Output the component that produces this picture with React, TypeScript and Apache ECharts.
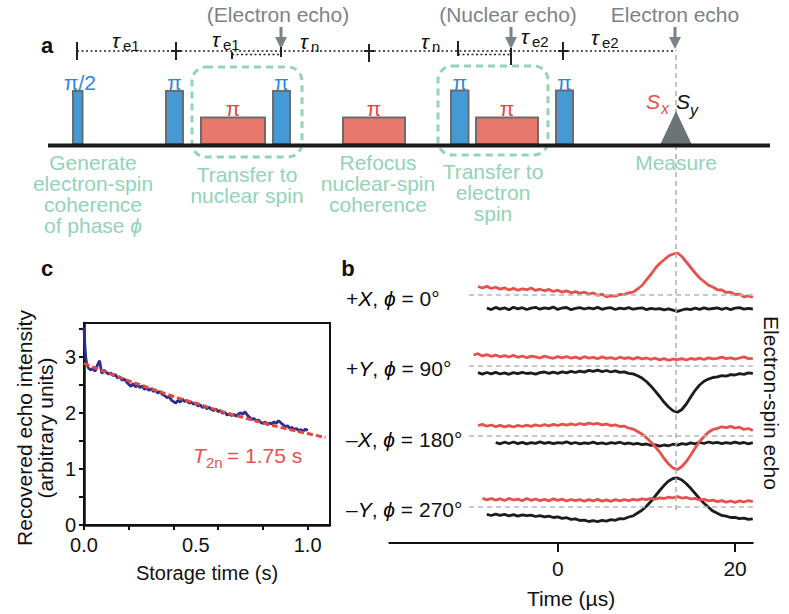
import React, { useEffect, useRef } from "react";
import * as echarts from "echarts";

const FONT = '"Liberation Sans", Arial, Helvetica, sans-serif';

/* ---------------- panel c : recovered echo vs storage time ---------------- */
const C_X_TICKS = [0, 0.2, 0.4, 0.6, 0.8, 1.0];
const C_X_LABELS = [0, 0.5, 1.0];
const C_Y_TICKS = [0, 0.5, 1, 1.5, 2, 2.5, 3, 3.5];
const C_Y_LABELS = [0, 1, 2, 3];

const STORAGE_TIME = [
  0, 0.004, 0.008, 0.012, 0.02, 0.03, 0.04, 0.05, 0.06, 0.07, 0.075, 0.08, 0.09, 0.1,
  0.11, 0.12, 0.13, 0.14, 0.15, 0.16, 0.17, 0.18, 0.19, 0.2,
  0.21, 0.22, 0.23, 0.24, 0.25, 0.26, 0.27, 0.28, 0.29, 0.3,
  0.31, 0.32, 0.33, 0.34, 0.35, 0.36, 0.37, 0.38, 0.39, 0.4,
  0.41, 0.42, 0.43, 0.44, 0.45, 0.46, 0.47, 0.48, 0.49, 0.5,
  0.51, 0.52, 0.53, 0.54, 0.55, 0.56, 0.57, 0.58, 0.59, 0.6,
  0.61, 0.62, 0.63, 0.64, 0.65, 0.66, 0.67, 0.68, 0.69, 0.7,
  0.71, 0.72, 0.73, 0.74, 0.75, 0.76, 0.77, 0.78, 0.79, 0.8,
  0.81, 0.82, 0.83, 0.84, 0.85, 0.86, 0.87, 0.88, 0.89, 0.9,
  0.91, 0.92, 0.93, 0.94, 0.95, 0.96, 0.97, 0.98, 0.99, 1.0,
];
const ECHO_INTENSITY = [
  3.52, 3.2, 2.98, 2.87, 2.8, 2.76, 2.79, 2.74, 2.85, 2.93, 2.8, 2.7, 2.76, 2.72,
  2.69, 2.71, 2.66, 2.68, 2.62, 2.64, 2.58, 2.6, 2.55, 2.51,
  2.47, 2.52, 2.46, 2.5, 2.45, 2.48, 2.42, 2.44, 2.4, 2.43,
  2.38, 2.4, 2.35, 2.38, 2.33, 2.31, 2.27, 2.29, 2.23, 2.2,
  2.17, 2.22, 2.19, 2.24, 2.2, 2.22, 2.17, 2.19, 2.15, 2.17,
  2.12, 2.14, 2.09, 2.12, 2.07, 2.1, 2.06, 2.04, 2.07, 2.02,
  2.04, 1.99, 2.01, 1.96, 1.98, 1.95, 1.97, 1.94, 1.98, 2.0,
  1.97, 2.02, 1.96, 1.92, 1.88, 1.9, 1.85, 1.87, 1.83, 1.81,
  1.84, 1.79, 1.82, 1.8, 1.84, 1.81, 1.86, 1.82, 1.79, 1.75,
  1.77, 1.72, 1.74, 1.7, 1.72, 1.68, 1.7, 1.67, 1.71, 1.68,
];
const FIT_TIME = [0, 0.1, 0.2, 0.3, 0.4, 0.5, 0.6, 0.7, 0.8, 0.9, 1.0, 1.08];
const FIT_INTENSITY = [2.88, 2.72, 2.57, 2.43, 2.29, 2.17, 2.04, 1.93, 1.82, 1.72, 1.63, 1.56];

/* ---------------- panel b : electron-spin echo traces ---------------- */
const B_MIN = -19;
const B_MAX = 22;
const B_TICKS = [0, 20];
const ECHO_TIME = 13.3;
const BASELINE_START = -10;
const TIME_STEP = 0.5;

const ROW_LABELS = [
  "+{i|X}, {i|ϕ} = 0°",
  "+{i|Y}, {i|ϕ} = 90°",
  "–{i|X}, {i|ϕ} = 180°",
  "–{i|Y}, {i|ϕ} = 270°",
];

// Sx (red) traces
const SX_STARTS = [-9, -9.5, -9, -8.5];
const SX_ROW1 = [
  8.5, 7.0, 8.8, 6.5, 7.8, 5.9, 7.2, 5.0, 6.6, 4.8, 6.2, 5.3, 6.9, 4.6, 5.8, 4.2, 5.6, 3.5, 4.8, 2.9,
  4.1, 2.2, 3.4, 1.6, 2.8, 0.9, 2.1, -0.3, 0.8, -1.8, -0.6, -1.2, 0.6, 0.4, 2.1, 2.8, 6.0, 9.5, 15.2, 20.5,
  26.8, 31.5, 35.2, 39.0, 41.0, 42.0, 38.5, 33.0, 27.5, 22.0, 17.0, 13.5, 9.8, 8.0, 5.2, 5.0, 2.6, 2.8, 0.5, 0.9,
  -1.8, -0.8, -2.5,
];
const SX_ROW2 = [
  10.5, 11.8, 9.6, 10.9, 9.2, 10.4, 8.7, 9.9, 8.5, 10.1, 8.2, 9.5, 7.8, 9.3, 8.6, 7.5, 9.4, 8.1, 7.2, 8.9,
  7.7, 9.0, 7.3, 8.4, 6.9, 8.8, 7.4, 8.2, 6.8, 8.6, 7.1, 7.9, 6.5, 8.3, 7.0, 7.8, 6.4, 8.1, 6.7, 7.5,
  6.1, 7.3, 5.6, 6.9, 5.2, 6.5, 5.8, 6.8, 5.5, 7.0, 6.2, 7.4, 6.0, 7.6, 6.6, 7.2, 8.4, 6.9, 7.7, 6.3,
  7.5, 8.6, 6.9, 7.2,
];
const SX_ROW3 = [
  10.5, 11.6, 9.8, 11.0, 9.4, 10.7, 9.2, 10.3, 9.0, 10.6, 9.5, 10.8, 9.6, 11.1, 10.0, 11.4, 10.2, 11.7, 10.5, 11.9,
  10.8, 12.2, 11.0, 12.5, 11.3, 12.8, 11.8, 12.6, 11.2, 12.0, 10.4, 11.1, 9.5, 9.9, 7.8, 6.9, 4.5, 2.0, -1.8, -6.0,
  -10.8, -16.2, -22.5, -28.0, -32.0, -33.5, -30.5, -25.5, -19.0, -12.0, -5.5, -0.5, 3.8, 6.5, 7.6, 9.2, 8.4, 9.6, 7.9, 8.8,
  6.6, 7.5, 5.4,
];
const SX_ROW4 = [
  8.2, 6.6, 8.0, 6.3, 7.7, 6.0, 8.1, 6.5, 7.4, 5.8, 7.9, 6.2, 7.5, 5.9, 7.2, 5.6, 7.6, 6.1, 7.3, 5.5,
  7.0, 5.8, 6.9, 5.3, 6.8, 5.6, 7.1, 5.4, 6.7, 5.2, 6.9, 5.7, 7.0, 5.9, 7.2, 6.3, 7.6, 6.8, 8.2, 7.4,
  8.7, 8.0, 9.3, 8.6, 9.8, 8.4, 9.0, 7.6, 8.1, 6.5, 7.2, 5.6, 6.4, 4.9, 5.8, 4.3, 5.5, 4.2, 5.7, 4.5,
  6.0, 4.8,
];

// Sy (black) traces
const SY_STARTS = [-8, -9, -7, -8];
const SY_ROW1 = [
  -13.0, -14.6, -12.4, -14.1, -12.9, -14.8, -12.2, -13.9, -12.7, -14.5, -13.1, -12.3, -14.2, -12.8, -13.6, -12.1, -14.4, -13.0, -12.5, -14.7,
  -13.3, -12.6, -14.0, -12.9, -13.8, -12.4, -14.3, -13.2, -12.7, -14.5, -13.1, -13.9, -12.6, -14.2, -13.4, -12.8, -14.6, -13.3, -14.1, -13.6,
  -14.9, -13.8, -15.2, -16.4, -15.0, -13.9, -14.6, -13.2, -14.4, -12.9, -14.1, -13.5, -12.8, -14.3, -13.0, -14.6, -13.2, -12.7, -14.2, -13.4,
  -14.0,
];
const SY_ROW2 = [
  -7.2, -8.6, -7.0, -8.3, -6.9, -8.5, -7.4, -8.8, -7.1, -8.2, -6.8, -8.0, -7.5, -8.7, -7.2, -6.5, -7.9, -6.6, -7.8, -6.3,
  -7.4, -5.9, -7.0, -5.6, -6.6, -4.9, -5.8, -4.6, -6.1, -5.0, -6.5, -5.4, -6.9, -6.3, -7.8, -8.4, -10.2, -12.6, -16.0, -20.5,
  -25.6, -31.0, -36.8, -41.5, -45.2, -46.8, -44.0, -38.5, -31.5, -24.8, -19.5, -15.8, -13.6, -12.0, -11.4, -10.2, -10.6, -9.1, -9.5, -8.2,
  -8.8, -7.4, -8.0,
];
const SY_ROW3 = [
  -6.5, -7.8, -6.2, -7.5, -6.0, -7.6, -6.4, -7.9, -6.7, -7.3, -5.9, -7.4, -6.3, -7.7, -6.6, -7.2, -5.8, -7.6, -6.5, -7.9,
  -6.9, -7.5, -6.1, -7.7, -6.8, -8.0, -6.7, -7.4, -6.2, -7.8, -7.0, -8.2, -7.4, -8.6, -8.0, -9.4, -8.8, -10.2, -9.0, -9.8,
  -8.2, -9.1, -7.6, -8.4, -6.9, -7.8, -6.4, -7.5, -6.0, -7.2, -6.3, -7.7, -6.6, -7.4, -6.1, -7.3, -6.5, -7.8, -6.7,
];
const SY_ROW4 = [
  -7.8, -9.0, -7.6, -8.9, -7.9, -9.3, -8.1, -9.6, -8.4, -9.2, -8.7, -10.0, -9.1, -10.4, -9.6, -11.0, -10.3, -11.8, -11.2, -12.9,
  -12.4, -14.0, -13.6, -15.0, -14.2, -15.1, -13.9, -14.6, -13.2, -13.8, -12.1, -12.3, -10.5, -9.4, -6.5, -3.8, 0.2, 5.0, 10.5, 16.0,
  21.2, 25.6, 28.0, 28.6, 26.5, 22.8, 18.2, 13.0, 7.8, 3.2, -0.8, -4.6, -6.8, -8.9, -9.6, -11.0, -10.8, -12.2, -11.6, -12.9,
  -12.3,
];

const SX_TRACES = [SX_ROW1, SX_ROW2, SX_ROW3, SX_ROW4];
const SY_TRACES = [SY_ROW1, SY_ROW2, SY_ROW3, SY_ROW4];

/* ---------------- layout & style ---------------- */
const ROW_BASE_Y = [295, 365.5, 436, 506.5];
const B_LEFT = 389.3;
const B_WIDTH = 363.5;
const RED = "#e8514b";
const BLACK = "#1c1c1c";
const GREEN = "#93d3b8";
const GRAY = "#7b8389";
const PULSE_BLUE = "#4599d4";
const PULSE_RED = "#e8786b";
const LABEL_BLUE = "#2b8ad6";
const LABEL_RED = "#e8463d";

type TOpts = {
  size?: number;
  fill?: string;
  italic?: boolean;
  bold?: boolean;
  align?: string;
  va?: string;
  rot?: number;
  lh?: number;
  rich?: any;
};
const txt = (x: number, y: number, text: string, o: TOpts = {}) => ({
  type: "text",
  x,
  y,
  z: 100,
  silent: true,
  rotation: o.rot || 0,
  style: {
    text,
    fill: o.fill || "#111",
    fontSize: o.size || 21,
    fontFamily: FONT,
    fontStyle: o.italic ? "italic" : "normal",
    fontWeight: o.bold ? "bold" : "normal",
    align: o.align || "center",
    textAlign: o.align || "center",
    verticalAlign: o.va || "middle",
    textVerticalAlign: o.va || "middle",
    lineHeight: o.lh,
    rich: o.rich,
  },
});
const seg = (x1: number, y1: number, x2: number, y2: number, stroke: string, w: number, dash?: number[]) => ({
  type: "line",
  z: 100,
  silent: true,
  shape: { x1, y1, x2, y2 },
  style: { stroke, lineWidth: w, lineDash: dash },
});
const box = (x: number, y: number, w: number, h: number, fill: string) => ({
  type: "rect",
  z: 100,
  silent: true,
  shape: { x, y, width: w, height: h },
  style: { fill, stroke: "#6c6c6c", lineWidth: 2 },
});
const arrow = (x: number) => [
  seg(x, 27, x, 40, GRAY, 3),
  {
    type: "polygon",
    z: 100,
    silent: true,
    shape: { points: [[x - 6, 37], [x + 6, 37], [x, 49]] },
    style: { fill: GRAY },
  },
];
const tau = (x: number, y: number, sub: string) => [
  txt(x, y, "τ", { italic: true, size: 21 }),
  txt(x + 7, y + 5, sub, { size: 15, align: "left" }),
];
const italicRich = (size: number, fill?: string) => ({
  i: { fontStyle: "italic", fontSize: size, fontFamily: FONT, fill },
});

function panelA(): any[] {
  const els: any[] = [];
  // top annotations
  els.push(txt(278, 14, "(Electron echo)", { fill: GRAY }));
  els.push(txt(508, 14, "(Nuclear echo)", { fill: GRAY }));
  els.push(txt(675, 14, "Electron echo", { fill: GRAY }));
  els.push(...arrow(281), ...arrow(511), ...arrow(675));
  els.push(txt(47, 45, "a", { bold: true, size: 22 }));
  // timeline
  const dot = [2, 2.5];
  els.push(seg(77, 51, 675, 51, "#222", 1.5, dot));
  els.push(seg(232, 54.5, 281, 54.5, "#222", 1.5, dot));
  els.push(seg(458, 54.5, 511, 54.5, "#222", 1.5, dot));
  const ticks = [
    [77, 42, 60], [176, 42, 60], [232, 52, 59], [281, 47, 57],
    [369, 44, 62], [458, 41, 56], [511, 48, 65], [563, 42, 60],
  ];
  ticks.forEach(([x, a, b]) => els.push(seg(x, a, x, b, "#222", 2)));
  els.push(seg(171, 51, 181, 51, "#222", 2), seg(364, 51, 374, 51, "#222", 2), seg(558, 51, 568, 51, "#222", 2));
  els.push(...tau(116, 40, "e1"), ...tau(216, 39, "e1"), ...tau(304, 41, "n"));
  els.push(...tau(425, 41, "n"), ...tau(525, 36, "e2"), ...tau(595, 37, "e2"));
  // dashed boxes
  const dbox = (x: number, y: number, w: number, h: number) => ({
    type: "rect",
    z: 99,
    silent: true,
    shape: { x, y, width: w, height: h, r: 14 },
    style: { fill: "none", stroke: GREEN, lineWidth: 3, lineDash: [7, 5] },
  });
  els.push(dbox(192, 67, 110, 90), dbox(438, 66, 110, 89));
  // pulses
  els.push(box(73, 91, 9.5, 53, PULSE_BLUE));
  els.push(box(166, 91, 17, 53, PULSE_BLUE));
  els.push(box(201, 117.5, 64, 26.5, PULSE_RED));
  els.push(box(273, 91, 17, 53, PULSE_BLUE));
  els.push(box(343, 117.5, 62, 26.5, PULSE_RED));
  els.push(box(451, 90.5, 17.5, 53.5, PULSE_BLUE));
  els.push(box(476, 117.5, 62, 26.5, PULSE_RED));
  els.push(box(556, 90.5, 17, 53.5, PULSE_BLUE));
  els.push(txt(80, 82, "π/2", { fill: LABEL_BLUE }));
  [174.5, 281.5, 460, 564.5].forEach((x) => els.push(txt(x, 82, "π", { fill: LABEL_BLUE })));
  [233, 374, 507].forEach((x) => els.push(txt(x, 108, "π", { fill: LABEL_RED })));
  // measurement triangle
  els.push({
    type: "polygon",
    z: 100,
    silent: true,
    shape: { points: [[660, 145], [676, 111], [692, 145]] },
    style: { fill: "#6b7377" },
  });
  els.push(txt(653, 101, "S", { fill: RED, italic: true }));
  els.push(txt(665, 108, "x", { fill: RED, italic: true, size: 16 }));
  els.push(txt(683, 101, "S", { italic: true }));
  els.push(txt(694, 110, "y", { italic: true, size: 16 }));
  // baseline
  els.push({ type: "rect", z: 101, silent: true, shape: { x: 48, y: 143.5, width: 722, height: 4 }, style: { fill: "#1a1a1a" } });
  // green descriptions
  els.push(txt(93, 152, "Generate\nelectron-spin\ncoherence\nof phase {i|ϕ}", { fill: GREEN, va: "top", lh: 21, rich: italicRich(21, GREEN) }));
  els.push(txt(247, 164, "Transfer to\nnuclear spin", { fill: GREEN, va: "top", lh: 21 }));
  els.push(txt(378, 152, "Refocus\nnuclear-spin\ncoherence", { fill: GREEN, va: "top", lh: 21 }));
  els.push(txt(493, 161, "Transfer to\nelectron\nspin", { fill: GREEN, va: "top", lh: 21 }));
  els.push(txt(676, 162, "Measure", { fill: GREEN }));
  return els;
}

function otherGraphics(): any[] {
  const els: any[] = [];
  els.push(txt(47, 268, "c", { bold: true, size: 22 }));
  els.push(txt(348, 268, "b", { bold: true, size: 22 }));
  els.push(txt(35, 428, "Recovered echo intensity\n(arbitrary units)", { rot: Math.PI / 2, lh: 21 }));
  els.push(txt(193, 455, "T", { fill: RED, italic: true, align: "left" }));
  els.push(txt(206, 462, "2n", { fill: RED, size: 15, align: "left" }));
  els.push(txt(227, 455, "= 1.75 s", { fill: RED, align: "left" }));
  ROW_LABELS.forEach((l, r) =>
    els.push(txt(346, ROW_BASE_Y[r] + 3, l, { align: "left", rich: italicRich(21) }))
  );
  els.push(txt(771, 403, "Electron-spin echo", { rot: -Math.PI / 2 }));
  return els;
}

const toPairs = (start: number, vals: number[]) => vals.map((v, i) => [start + i * TIME_STEP, v]);

function buildOption(): any {
  const grids: any[] = [
    { left: 84, top: 323, width: 246, height: 202, show: true, borderColor: "#111", borderWidth: 2, backgroundColor: "transparent" },
  ];
  ROW_BASE_Y.forEach((b) => grids.push({ left: B_LEFT, width: B_WIDTH, top: b - 50, height: 100 }));
  grids.push({ left: B_LEFT, width: B_WIDTH, top: 50, height: 462 });

  const axisText = { fontSize: 20, color: "#111", fontFamily: FONT };
  const xAxes: any[] = [
    {
      gridIndex: 0,
      type: "value",
      min: 0,
      max: 1.1,
      axisLine: { show: true, onZero: false, lineStyle: { color: "#111", width: 2.5 } },
      axisTick: { show: true, customValues: C_X_TICKS, length: 5, lineStyle: { color: "#111", width: 2 } },
      axisLabel: { show: true, customValues: C_X_LABELS, formatter: (v: number) => v.toFixed(1), margin: 10, ...axisText },
      splitLine: { show: false },
      name: "Storage time (s)",
      nameLocation: "middle",
      nameGap: 38,
      nameTextStyle: axisText,
    },
  ];
  const yAxes: any[] = [
    {
      gridIndex: 0,
      type: "value",
      min: 0,
      max: 3.6,
      axisLine: { show: true, onZero: false, lineStyle: { color: "#111", width: 2.5 } },
      axisTick: { show: true, customValues: C_Y_TICKS, length: 5, lineStyle: { color: "#111", width: 2 } },
      axisLabel: { show: true, customValues: C_Y_LABELS, margin: 8, ...axisText },
      splitLine: { show: false },
    },
  ];
  for (let r = 0; r < 4; r++) {
    xAxes.push({ gridIndex: r + 1, type: "value", min: B_MIN, max: B_MAX, show: false });
    yAxes.push({ gridIndex: r + 1, type: "value", min: -50, max: 50, show: false });
  }
  xAxes.push({
    gridIndex: 5,
    type: "value",
    min: B_MIN,
    max: B_MAX,
    offset: 33,
    axisLine: { show: true, onZero: false, lineStyle: { color: "#111", width: 2 } },
    axisTick: { show: true, customValues: B_TICKS, length: 9, lineStyle: { color: "#111", width: 2 } },
    axisLabel: { show: true, customValues: B_TICKS, margin: 15, fontSize: 21, color: "#111", fontFamily: FONT },
    splitLine: { show: false },
    name: "Time (µs)",
    nameLocation: "middle",
    nameGap: 45,
    nameTextStyle: { fontSize: 21, color: "#111", fontFamily: FONT },
  });
  yAxes.push({ gridIndex: 5, type: "value", min: 0, max: 1, show: false });

  const series: any[] = [
    {
      type: "line",
      xAxisIndex: 5,
      yAxisIndex: 5,
      data: [[ECHO_TIME, 0.5]],
      showSymbol: false,
      lineStyle: { opacity: 0 },
      markLine: {
        silent: true,
        symbol: ["none", "none"],
        label: { show: false },
        lineStyle: { type: [5, 4], color: "#aab0b4", width: 1.5 },
        data: [{ xAxis: ECHO_TIME }],
      },
    },
    {
      type: "line",
      xAxisIndex: 0,
      yAxisIndex: 0,
      data: STORAGE_TIME.map((t, i) => [t, ECHO_INTENSITY[i]]),
      showSymbol: false,
      lineStyle: { color: "#2a2f8e", width: 2.8 },
    },
    {
      type: "line",
      xAxisIndex: 0,
      yAxisIndex: 0,
      data: FIT_TIME.map((t, i) => [t, FIT_INTENSITY[i]]),
      showSymbol: false,
      smooth: true,
      lineStyle: { color: "#e8453c", width: 3, type: [6, 3] },
    },
  ];
  for (let r = 0; r < 4; r++) {
    series.push({
      type: "line",
      xAxisIndex: r + 1,
      yAxisIndex: r + 1,
      data: toPairs(SY_STARTS[r], SY_TRACES[r]),
      showSymbol: false,
      lineStyle: { color: BLACK, width: 2.8 },
      markLine: {
        silent: true,
        symbol: ["none", "none"],
        label: { show: false },
        lineStyle: { type: [5, 4], color: "#b3b8bb", width: 1.5 },
        data: [[{ coord: [BASELINE_START, 0] }, { coord: [B_MAX, 0] }]],
      },
    });
    series.push({
      type: "line",
      xAxisIndex: r + 1,
      yAxisIndex: r + 1,
      data: toPairs(SX_STARTS[r], SX_TRACES[r]),
      showSymbol: false,
      lineStyle: { color: RED, width: 2.8 },
    });
  }

  return {
    animation: false,
    backgroundColor: "#ffffff",
    grid: grids,
    xAxis: xAxes,
    yAxis: yAxes,
    series,
    graphic: { elements: [...panelA(), ...otherGraphics()] },
  };
}

export default function App() {
  const ref = useRef<HTMLDivElement>(null);
  useEffect(() => {
    if (!ref.current) return;
    const chart = echarts.init(ref.current, null, { renderer: "svg" });
    chart.setOption(buildOption());
    return () => chart.dispose();
  }, []);
  return (
    <div
      ref={ref}
      style={{ position: "absolute", left: 0, top: 0, width: 789, height: 614, background: "#fff" }}
    />
  );
}
